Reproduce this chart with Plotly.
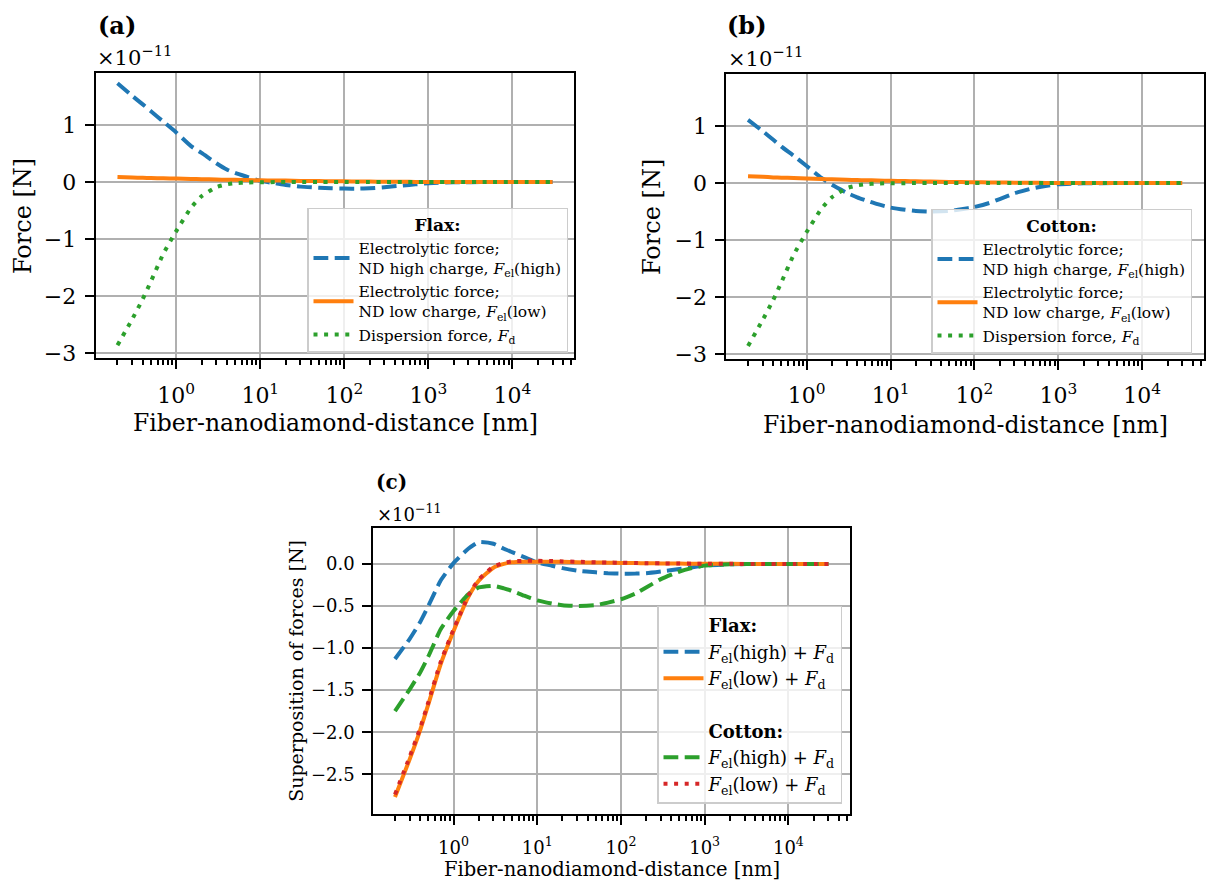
import plotly.graph_objects as go

# Sampled fiber-nanodiamond distances [nm]
distance_nm = [0.2, 0.3, 0.4, 0.5, 0.7, 1, 1.5, 2, 3, 4, 5, 7, 10, 15, 20, 30,
               50, 70, 100, 150, 200, 300, 500, 700, 1000, 2000, 5000, 10000, 30000]

# Forces in units of 1e-11 N
flax_el_high = [1.73, 1.51, 1.36, 1.24, 1.06, 0.87, 0.63, 0.51, 0.33, 0.22, 0.16, 0.09, 0.02,
                -0.02, -0.05, -0.08, -0.10, -0.11, -0.115, -0.115, -0.11, -0.09, -0.06, -0.04,
                -0.02, -0.005, 0, 0, 0]
flax_el_low = [0.09, 0.08, 0.075, 0.07, 0.065, 0.06, 0.055, 0.05, 0.045, 0.04, 0.04, 0.035, 0.03,
               0.027, 0.025, 0.02, 0.017, 0.015, 0.012, 0.01, 0.008, 0.006, 0.004, 0.003,
               0.002, 0.001, 0, 0, 0]
cotton_el_high = [1.11, 0.91, 0.76, 0.64, 0.48, 0.30, 0.09, -0.03, -0.17, -0.25, -0.30, -0.37, -0.43,
                  -0.47, -0.49, -0.50, -0.49, -0.46, -0.42, -0.35, -0.28, -0.18, -0.09, -0.05,
                  -0.02, -0.005, 0, 0, 0]
cotton_el_low = [0.12, 0.11, 0.10, 0.095, 0.09, 0.08, 0.07, 0.065, 0.058, 0.053, 0.05, 0.045, 0.04,
                 0.035, 0.03, 0.026, 0.02, 0.017, 0.014, 0.011, 0.009, 0.007, 0.005, 0.003,
                 0.002, 0.001, 0, 0, 0]
dispersion = [-2.86, -2.40, -2.05, -1.74, -1.26, -0.86, -0.45, -0.25, -0.09, -0.04, -0.02, -0.008,
              -0.003, -0.001, 0, 0, 0, 0, 0, 0, 0, 0, 0, 0, 0, 0, 0, 0, 0]

decade_ticks = [1, 10, 100, 1000, 10000]
decade_labels = ["10<sup>0</sup>", "10<sup>1</sup>", "10<sup>2</sup>", "10<sup>3</sup>", "10<sup>4</sup>"]

# Superposition of electrolytic and dispersion forces
flax_high_sum = [e + d for e, d in zip(flax_el_high, dispersion)]
flax_low_sum = [e + d for e, d in zip(flax_el_low, dispersion)]
cotton_high_sum = [e + d for e, d in zip(cotton_el_high, dispersion)]
cotton_low_sum = [e + d for e, d in zip(cotton_el_low, dispersion)]

FONT = "DejaVu Serif"
BLUE, ORANGE, GREEN, RED = "#1f77b4", "#ff7f0e", "#2ca02c", "#d62728"
DASHED = "14.8px,6.4px"
DOTTED = "4px,6.6px"
W, H = 1207, 883


def px_x(p):
    return p / W


def px_y(p):
    return 1 - p / H


fig = go.Figure()


def add_line(y, color, dash, name, xa, ya, legend):
    fig.add_trace(go.Scatter(
        x=distance_nm, y=y, mode="lines", name=name, xaxis=xa, yaxis=ya, legend=legend,
        line=dict(color=color, width=4, dash=dash, shape="spline", smoothing=0.5),
    ))


def add_blank(name, legend):
    fig.add_trace(go.Scatter(
        x=[None], y=[None], mode="lines", name=name, xaxis="x3", yaxis="y3", legend=legend,
        line=dict(color="rgba(0,0,0,0)", width=4), hoverinfo="skip",
    ))


el_high_name = "Electrolytic force;<br>ND high charge, <i>F</i><sub>el</sub>(high)"
el_low_name = "Electrolytic force;<br>ND low charge, <i>F</i><sub>el</sub>(low)"
disp_name = "Dispersion force, <i>F</i><sub>d</sub>"

# (a) Flax
add_line(flax_el_high, BLUE, DASHED, el_high_name, "x", "y", "legend")
add_line(flax_el_low, ORANGE, "solid", el_low_name, "x", "y", "legend")
add_line(dispersion, GREEN, DOTTED, disp_name, "x", "y", "legend")

# (b) Cotton
add_line(cotton_el_high, BLUE, DASHED, el_high_name, "x2", "y2", "legend2")
add_line(cotton_el_low, ORANGE, "solid", el_low_name, "x2", "y2", "legend2")
add_line(dispersion, GREEN, DOTTED, disp_name, "x2", "y2", "legend2")

# (c) Superposition
high_sum_name = "<i>F</i><sub>el</sub>(high) + <i>F</i><sub>d</sub>"
low_sum_name = "<i>F</i><sub>el</sub>(low) + <i>F</i><sub>d</sub>"
add_blank("<b>Flax:</b>", "legend3")
add_line(flax_high_sum, BLUE, DASHED, high_sum_name, "x3", "y3", "legend3")
add_line(flax_low_sum, ORANGE, "solid", low_sum_name, "x3", "y3", "legend3")
add_blank(" ", "legend3")
add_blank("<b>Cotton:</b>", "legend3")
add_line(cotton_high_sum, GREEN, DASHED, high_sum_name, "x3", "y3", "legend3")
add_line(cotton_low_sum, RED, DOTTED, low_sum_name, "x3", "y3", "legend3")

minor_vals = [m * 10.0 ** e for e in range(-1, 5) for m in range(2, 10)]


def x_axis(domain, anchor, tick_size):
    return dict(
        domain=domain, anchor=anchor, type="log", range=[-0.958, 4.736],
        tickmode="array", tickvals=decade_ticks, ticktext=decade_labels,
        ticks="outside", ticklen=9, tickwidth=2, tickcolor="black",
        showline=True, mirror=True, linecolor="black", linewidth=2,
        showgrid=True, gridcolor="#b0b0b0", gridwidth=2, zeroline=False,
        ticklabelstandoff=7,
        tickfont=dict(family=FONT, size=tick_size, color="black"),
        minor=dict(tickmode="array", tickvals=minor_vals, ticks="outside", ticklen=5,
                   tickwidth=1.5, tickcolor="black", showgrid=False),
    )


def y_axis(domain, anchor, rng, tickvals, fmt, tick_size):
    return dict(
        domain=domain, anchor=anchor, range=rng, tickmode="array", tickvals=tickvals,
        tickformat=fmt, ticks="outside", ticklen=9, tickwidth=2, tickcolor="black",
        showline=True, mirror=True, linecolor="black", linewidth=2,
        showgrid=True, gridcolor="#b0b0b0", gridwidth=2, zeroline=False,
        ticklabelstandoff=4,
        tickfont=dict(family=FONT, size=tick_size, color="black"),
    )


top_range = [-3.09, 1.91]
top_ticks = [-3, -2, -1, 0, 1]
bottom_ticks = [-2.5, -2.0, -1.5, -1.0, -0.5, 0.0]


def legend_box(right, bottom, size, title=None, title_size=None):
    d = dict(
        x=px_x(right), y=px_y(bottom), xanchor="right", yanchor="bottom",
        bgcolor="rgba(255,255,255,0.8)", bordercolor="#cccccc", borderwidth=1.5,
        font=dict(family=FONT, size=size, color="black"), itemwidth=40,
        tracegroupgap=0,
    )
    if title:
        d["title"] = dict(text=title, side="top center",
                          font=dict(family=FONT, size=title_size, color="black"))
    return d


def note(text, x, y, size, xanchor="left", yanchor="middle", angle=0):
    return dict(text=text, x=px_x(x), y=px_y(y), xref="paper", yref="paper",
                xanchor=xanchor, yanchor=yanchor, showarrow=False, textangle=angle,
                font=dict(family=FONT, size=size, color="black"))


annotations = [
    note("<b>(a)</b>", 96, 26, 24),
    note("<b>(b)</b>", 725, 26, 24),
    note("<b>(c)</b>", 374, 486, 20),
    note("×10<sup>−11</sup>", 95, 57, 21),
    note("×10<sup>−11</sup>", 726, 58, 21),
    note("×10<sup>−11</sup>", 375, 518, 18),
    note("Fiber-nanodiamond-distance [nm]", 335, 427, 23.5, xanchor="center"),
    note("Fiber-nanodiamond-distance [nm]", 965, 429, 23.5, xanchor="center"),
    note("Fiber-nanodiamond-distance [nm]", 611.5, 877, 19.5, xanchor="center"),
    note("Force [N]", 23, 218, 24, xanchor="center", angle=-90),
    note("Force [N]", 652, 219, 24, xanchor="center", angle=-90),
    note("Superposition of forces [N]", 296, 677, 19, xanchor="center", angle=-90),
]

fig.update_layout(
    width=W, height=H, margin=dict(l=0, r=0, t=0, b=0),
    paper_bgcolor="white", plot_bgcolor="white",
    font=dict(family=FONT, color="black"),
    xaxis=x_axis([px_x(95.7), px_x(574.3)], "y", 22),
    yaxis=y_axis([px_y(361.7), px_y(73.7)], "x", top_range, top_ticks, "d", 22),
    xaxis2=x_axis([px_x(726.3), px_x(1204)], "y2", 22),
    yaxis2=y_axis([px_y(362.3), px_y(75)], "x2", top_range, top_ticks, "d", 22),
    xaxis3=x_axis([px_x(373.3), px_x(850)], "y3", 18),
    yaxis3=y_axis([px_y(821.7), px_y(533)], "x3", [-2.975, 0.425], bottom_ticks, ".1f", 18),
    legend=legend_box(568, 356, 15.5, "<b>Flax:</b>", 17),
    legend2=legend_box(1192, 357, 15.5, "<b>Cotton:</b>", 17),
    legend3=legend_box(842, 811, 18),
    annotations=annotations,
    showlegend=True,
)

fig.write_html("out.html")
